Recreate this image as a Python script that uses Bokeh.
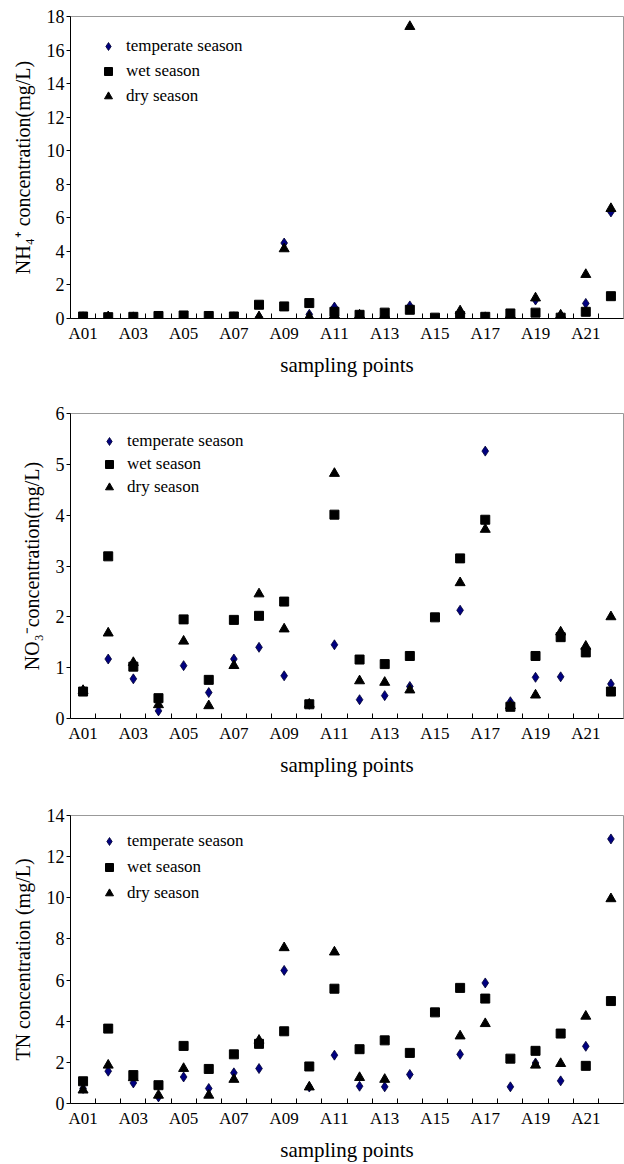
import math
from bokeh.plotting import figure
from bokeh.layouts import column
from bokeh.models import Range1d, FixedTicker, Legend, LegendItem
from bokeh.embed import file_html
from bokeh.resources import INLINE

nan = float("nan")

sites = ["A%02d" % i for i in range(1, 23)]
x_pos = list(range(1, 23))
tick_positions = list(range(1, 23, 2))
tick_labels = ["A%02d" % i for i in tick_positions]
boundaries = [i + 0.5 for i in range(1, 22)]

series_names = ["temperate season", "wet season", "dry season"]

nh4_temperate = [0.08, 0.05, 0.05, 0.05, 0.05, 0.05, 0.05, 0.10, 4.50, 0.25, 0.68, 0.20, 0.20, 0.75, nan, 0.20, 0.05, 0.25, 1.10, 0.15, 0.90, 6.35]
nh4_wet = [0.12, 0.08, 0.10, 0.15, 0.18, 0.15, 0.12, 0.82, 0.72, 0.92, 0.40, 0.22, 0.35, 0.52, 0.05, 0.15, 0.10, 0.30, 0.35, 0.05, 0.40, 1.33]
nh4_dry = [0.05, 0.10, 0.05, 0.05, 0.05, 0.05, 0.05, 0.10, 4.15, 0.10, 0.20, 0.20, 0.20, 17.40, nan, 0.45, 0.05, 0.20, 1.22, 0.20, 2.62, 6.55]

no3_temperate = [0.55, 1.17, 0.78, 0.15, 1.04, 0.51, 1.17, 1.40, 0.84, 0.28, 1.45, 0.37, 0.45, 0.63, nan, 2.13, 5.26, 0.33, 0.81, 0.82, 1.35, 0.68]
no3_wet = [0.53, 3.19, 1.02, 0.40, 1.95, 0.76, 1.94, 2.02, 2.30, 0.28, 4.01, 1.16, 1.07, 1.23, 1.99, 3.15, 3.91, 0.23, 1.23, 1.60, 1.30, 0.53]
no3_dry = [0.55, 1.68, 1.10, 0.27, 1.52, 0.25, 1.04, 2.45, 1.76, 0.28, 4.82, 0.74, 0.71, 0.56, nan, 2.67, 3.72, 0.25, 0.46, 1.70, 1.42, 2.00]

tn_temperate = [0.73, 1.57, 1.00, 0.32, 1.29, 0.73, 1.49, 1.70, 6.47, 0.80, 2.35, 0.84, 0.81, 1.41, nan, 2.39, 5.86, 0.81, 1.97, 1.10, 2.78, 12.86]
tn_wet = [1.08, 3.64, 1.38, 0.89, 2.80, 1.68, 2.39, 2.90, 3.51, 1.80, 5.58, 2.64, 3.07, 2.46, 4.43, 5.62, 5.10, 2.18, 2.56, 3.40, 1.83, 4.98]
tn_dry = [0.65, 1.86, 1.25, 0.40, 1.70, 0.40, 1.17, 3.07, 7.57, 0.80, 7.36, 1.26, 1.17, nan, nan, 3.28, 3.88, nan, 1.86, 1.94, 4.24, 9.95]

FONT = "Liberation Serif"


def make_panel(temperate, wet, dry, ymax, ystep, ylabel, ylabel_size, height,
               left, top, bottom, legend_x, legend_pitch, legend_top):
    p = figure(width=624, height=height, output_backend="svg", toolbar_location=None,
               x_range=Range1d(0.5, 22.5), y_range=Range1d(0, ymax),
               min_border_left=left, min_border_right=1, min_border_top=top,
               min_border_bottom=bottom)
    p.background_fill_color = "white"
    p.border_fill_color = "white"
    p.outline_line_color = "#999999"
    p.xgrid.visible = False
    p.ygrid.visible = False

    r1 = p.scatter(x_pos, temperate, marker="diamond", size=10,
                   fill_color="#000080", line_color="#000030", line_width=0.8)
    r2 = p.scatter(x_pos, wet, marker="square", size=9, fill_color="black", line_color="black")
    r3 = p.scatter(x_pos, dry, marker="triangle", size=10, fill_color="black", line_color="black")

    xa = p.xaxis[0]
    xa.ticker = FixedTicker(ticks=tick_positions, minor_ticks=boundaries)
    xa.major_label_overrides = {t: l for t, l in zip(tick_positions, tick_labels)}
    xa.major_tick_line_color = None
    xa.major_tick_out = 0
    xa.major_tick_in = 0
    xa.minor_tick_in = 5
    xa.minor_tick_out = 0
    xa.minor_tick_line_color = "black"
    xa.axis_line_color = "black"
    xa.major_label_text_font = FONT
    xa.major_label_text_font_size = "17px"
    xa.major_label_text_color = "black"
    xa.major_label_standoff = 5
    xa.axis_label = "sampling points"
    xa.axis_label_text_font = FONT
    xa.axis_label_text_font_size = "21px"
    xa.axis_label_text_font_style = "normal"
    xa.axis_label_text_color = "black"
    xa.axis_label_standoff = 7

    ya = p.yaxis[0]
    ya.ticker = FixedTicker(ticks=list(range(0, ymax + 1, ystep)), minor_ticks=[])
    ya.major_tick_out = 4
    ya.major_tick_in = 0
    ya.major_tick_line_color = "black"
    ya.minor_tick_line_color = None
    ya.axis_line_color = "black"
    ya.major_label_text_font = FONT
    ya.major_label_text_font_size = "18px"
    ya.major_label_text_color = "black"
    ya.major_label_standoff = 2
    ya.axis_label = ylabel
    ya.axis_label_text_font = FONT
    ya.axis_label_text_font_size = ylabel_size
    ya.axis_label_text_font_style = "normal"
    ya.axis_label_text_color = "black"
    ya.axis_label_standoff = 10

    frame_h = height - top - bottom
    glyph_h = 20
    spacing = legend_pitch - glyph_h
    leg_h = 3 * glyph_h + 2 * spacing
    legend = Legend(items=[LegendItem(label=series_names[0], renderers=[r1]),
                           LegendItem(label=series_names[1], renderers=[r2]),
                           LegendItem(label=series_names[2], renderers=[r3])],
                    location=(legend_x, frame_h - legend_top - leg_h),
                    padding=0, margin=0, spacing=spacing,
                    glyph_width=20, glyph_height=glyph_h, label_height=glyph_h,
                    label_standoff=8, border_line_color=None,
                    background_fill_alpha=0,
                    label_text_font=FONT, label_text_font_size="17px",
                    label_text_color="black")
    p.add_layout(legend)
    return p


p1 = make_panel(nh4_temperate, nh4_wet, nh4_dry, 18, 2, "NH\u2084\u207a concentration(mg/L)", "20px",
                380, 70, 16, 62, 28, 25, 20)
p2 = make_panel(no3_temperate, no3_wet, no3_dry, 6, 1, "NO\u2083\u207bconcentration(mg/L)", "20px",
                400, 67, 33, 62, 29, 23, 18)
p3 = make_panel(tn_temperate, tn_wet, tn_dry, 14, 2, "TN concentration (mg/L)", "20px",
                384, 67, 35, 61, 29, 26, 16)

layout = column(p1, p2, p3, spacing=0)
open("out.html", "w").write(file_html(layout, INLINE))
